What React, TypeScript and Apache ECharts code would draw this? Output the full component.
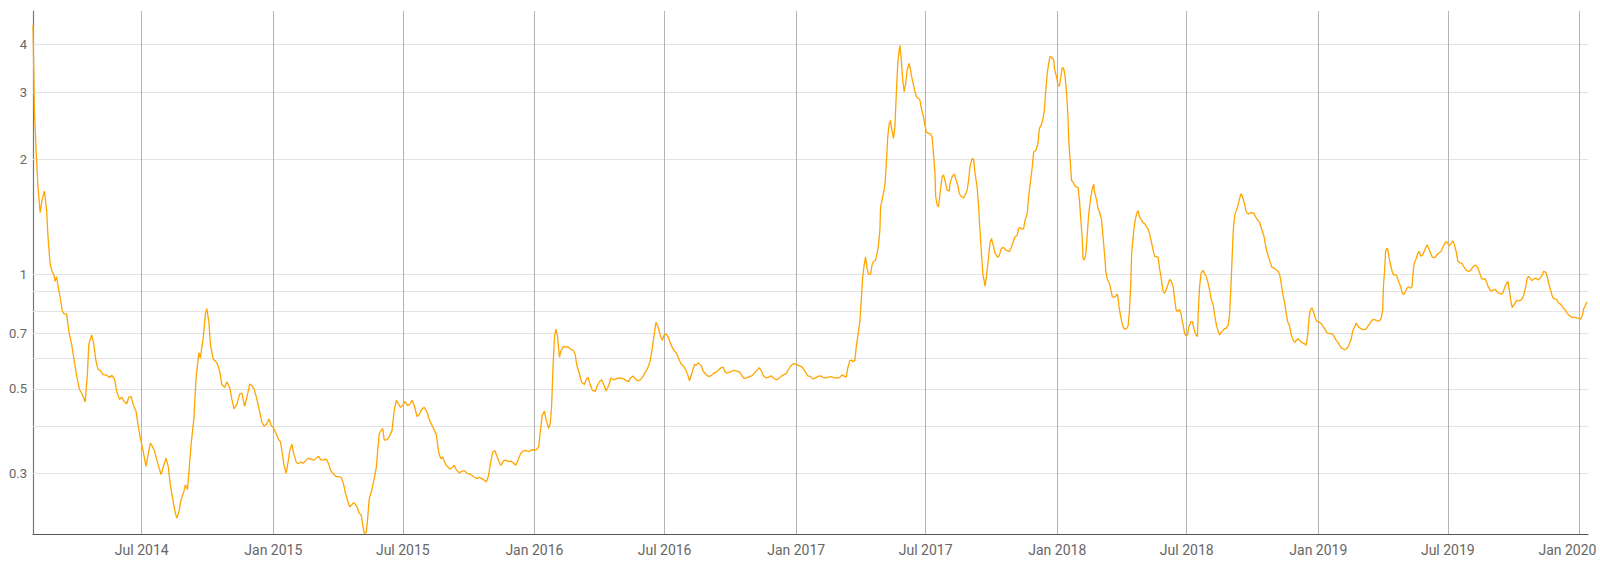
import { useEffect, useRef } from "react";
import * as echarts from "echarts";

// x values: days after startDate
const startDate = "2014-01-30";
const endDate = "2020-01-13";

const dayOffsets: number[] = [
  // Feb 2014 - Nov 2014
  0, 2, 5, 7, 10, 13, 16, 19, 21, 24, 27, 29, 31, 33, 35, 38, 41, 43, 47, 50, 54, 57, 60, 62, 65, 69, 73, 76, 78, 82, 85, 88, 91, 94, 98, 103, 107, 110, 114, 117, 121, 124, 127, 131, 134, 137, 140, 144, 147, 150, 154, 158, 161, 164, 167, 170, 173, 176, 179, 183, 186, 189, 192, 196, 199, 201, 204, 207, 211, 213, 216, 218, 221, 225, 228, 232, 234, 238, 241, 243, 246, 248, 252, 255, 258, 261, 264, 268, 271, 275,
  // Nov 2014 - Aug 2015
  278, 281, 285, 289, 292, 296, 299, 303, 306, 309, 313, 317, 320, 323, 327, 330, 333, 336, 340, 343, 346, 349, 351, 354, 357, 359, 362, 364, 368, 371, 374, 378, 382, 385, 390, 393, 397, 399, 402, 406, 410, 413, 416, 420, 424, 427, 431, 434, 437, 441, 443, 447, 449, 453, 456, 459, 461, 463, 466, 468, 470, 474, 477, 480, 482, 484, 487, 489, 491, 495, 498, 502, 505, 508, 511, 514, 517, 520, 524, 527, 530, 533, 537, 540, 544, 547, 551, 554,
  // Aug 2015 - May 2016
  559, 564, 567, 570, 573, 576, 579, 583, 586, 589, 592, 596, 600, 603, 607, 610, 613, 617, 620, 624, 627, 631, 634, 637, 640, 643, 646, 648, 652, 654, 658, 661, 665, 668, 672, 675, 679, 682, 686, 689, 693, 696, 700, 703, 707, 709, 712, 715, 717, 721, 723, 725, 727, 729, 731, 733, 736, 738, 742, 745, 748, 751, 755, 758, 760, 764, 767, 771, 773, 776, 779, 782, 786, 789, 793, 795, 799, 801, 805, 808, 812, 815, 819, 822, 826, 829, 833,
  // May 2016 - Feb 2017
  835, 839, 842, 845, 849, 853, 856, 859, 863, 866, 869, 871, 874, 877, 880, 882, 885, 888, 891, 894, 897, 900, 903, 906, 910, 913, 916, 918, 920, 923, 925, 927, 930, 934, 937, 941, 944, 948, 951, 955, 958, 962, 965, 967, 970, 974, 977, 980, 984, 988, 991, 994, 998, 1002, 1005, 1008, 1012, 1015, 1018, 1021, 1025, 1028, 1032, 1035, 1039, 1042, 1046, 1049, 1053, 1056, 1060, 1063, 1067, 1070, 1074, 1076, 1080, 1083, 1087, 1090, 1094, 1097, 1101, 1104, 1108, 1111,
  // Feb 2017 - Dec 2017
  1115, 1119, 1124, 1128, 1131, 1134, 1137, 1139, 1142, 1144, 1146, 1149, 1151, 1153, 1156, 1158, 1160, 1162, 1164, 1166, 1168, 1171, 1173, 1175, 1178, 1180, 1182, 1184, 1185, 1187, 1189, 1191, 1193, 1195, 1197, 1199, 1200, 1203, 1205, 1207, 1209, 1211, 1212, 1214, 1216, 1218, 1220, 1222, 1225, 1226, 1228, 1231, 1233, 1235, 1238, 1240, 1242, 1245, 1247, 1249, 1252, 1254, 1257, 1259, 1261, 1262, 1264, 1266, 1268, 1271, 1273, 1275, 1278, 1281, 1282, 1285, 1288, 1290, 1293, 1295, 1298, 1301, 1303, 1306, 1308, 1310, 1313, 1315, 1317, 1320, 1322, 1324, 1326, 1328, 1330, 1331, 1333, 1336, 1338, 1340, 1343, 1345, 1349, 1351, 1354, 1357, 1360, 1363, 1365, 1368, 1370, 1373, 1376, 1378, 1380, 1383, 1385, 1387, 1390, 1392,
  // Dec 2017 - Sep 2018
  1397, 1399, 1402, 1405, 1407, 1410, 1412, 1414, 1416, 1418, 1420, 1422, 1424, 1427, 1428, 1431, 1433, 1435, 1437, 1439, 1441, 1443, 1445, 1447, 1448, 1450, 1452, 1454, 1456, 1459, 1461, 1463, 1465, 1467, 1468, 1470, 1472, 1474, 1476, 1479, 1481, 1483, 1484, 1487, 1489, 1491, 1494, 1496, 1498, 1500, 1502, 1505, 1507, 1509, 1511, 1513, 1516, 1517, 1519, 1522, 1524, 1526, 1529, 1531, 1533, 1535, 1536, 1539, 1541, 1543, 1545, 1547, 1550, 1552, 1554, 1557, 1559, 1561, 1564, 1566, 1568, 1571, 1573, 1575, 1577, 1580, 1582, 1584, 1587, 1589, 1591, 1594, 1596, 1598, 1600, 1603, 1605, 1606, 1608, 1610, 1612, 1614, 1616, 1619, 1621, 1623, 1626, 1628, 1629, 1631, 1633, 1636, 1638, 1640, 1643, 1645, 1647, 1650, 1652, 1654, 1657, 1659, 1661, 1664, 1666, 1668, 1671, 1673, 1675,
  // Sep 2018 - Jun 2019
  1678, 1680, 1681, 1684, 1687, 1689, 1691, 1694, 1696, 1699, 1701, 1704, 1707, 1709, 1712, 1715, 1718, 1721, 1723, 1725, 1728, 1730, 1732, 1735, 1738, 1741, 1743, 1745, 1747, 1750, 1752, 1754, 1757, 1759, 1762, 1764, 1766, 1769, 1771, 1773, 1776, 1778, 1780, 1782, 1784, 1786, 1788, 1790, 1792, 1794, 1796, 1799, 1801, 1803, 1806, 1808, 1810, 1813, 1815, 1818, 1820, 1822, 1825, 1827, 1829, 1832, 1834, 1836, 1839, 1841, 1843, 1845, 1848, 1850, 1852, 1855, 1857, 1860, 1862, 1864, 1866, 1869, 1871, 1873, 1876, 1878, 1880, 1883, 1885, 1887, 1888, 1890, 1891, 1893, 1894, 1895, 1897, 1899, 1901, 1902, 1905, 1907, 1909, 1912, 1914, 1916, 1919, 1921, 1923, 1926, 1928, 1929, 1931, 1934, 1936, 1938, 1940, 1942, 1944, 1947, 1949, 1951,
  // Jun 2019 - Jan 2020
  1956, 1958, 1961, 1963, 1966, 1969, 1971, 1974, 1976, 1978, 1980, 1983, 1985, 1987, 1990, 1992, 1995, 1998, 2000, 2004, 2006, 2010, 2013, 2016, 2018, 2020, 2023, 2025, 2027, 2030, 2032, 2034, 2037, 2039, 2041, 2044, 2046, 2048, 2051, 2053, 2055, 2058, 2060, 2062, 2064, 2066, 2068, 2070, 2073, 2075, 2077, 2080, 2082, 2084, 2087, 2089, 2091, 2094, 2096, 2098, 2101, 2103, 2105, 2108, 2110, 2112, 2115, 2117, 2119, 2122, 2124, 2126, 2129, 2131, 2133, 2136, 2138, 2140, 2143, 2145, 2147, 2150, 2152, 2155, 2158, 2161, 2164, 2166, 2168, 2171, 2173,
];

const values: number[] = [
  // Feb 2014 - Nov 2014
  4.5, 2.69, 1.99, 1.69, 1.45, 1.58, 1.65, 1.47, 1.25, 1.06, 1.01, 1.0, 0.957, 0.984, 0.932, 0.868, 0.8, 0.788, 0.785, 0.709, 0.654, 0.603, 0.556, 0.529, 0.498, 0.483, 0.462, 0.545, 0.654, 0.692, 0.654, 0.592, 0.562, 0.559, 0.545, 0.543, 0.535, 0.543, 0.529, 0.492, 0.469, 0.475, 0.464, 0.457, 0.475, 0.478, 0.455, 0.437, 0.4, 0.372, 0.343, 0.313, 0.336, 0.36, 0.353, 0.343, 0.326, 0.311, 0.298, 0.316, 0.329, 0.313, 0.28, 0.253, 0.236, 0.229, 0.238, 0.256, 0.269, 0.28, 0.272, 0.303, 0.357, 0.419, 0.535, 0.622, 0.603, 0.681, 0.785, 0.812, 0.747, 0.654, 0.597, 0.592, 0.579, 0.556, 0.513, 0.504, 0.522, 0.504,
  // Nov 2014 - Aug 2015
  0.47, 0.443, 0.456, 0.485, 0.487, 0.45, 0.475, 0.515, 0.51, 0.5, 0.47, 0.434, 0.409, 0.399, 0.405, 0.417, 0.4, 0.396, 0.381, 0.369, 0.363, 0.334, 0.315, 0.3, 0.325, 0.345, 0.358, 0.341, 0.321, 0.318, 0.321, 0.319, 0.325, 0.329, 0.326, 0.325, 0.33, 0.333, 0.326, 0.325, 0.327, 0.319, 0.306, 0.299, 0.294, 0.294, 0.293, 0.282, 0.265, 0.25, 0.245, 0.25, 0.251, 0.245, 0.236, 0.233, 0.219, 0.209, 0.21, 0.23, 0.257, 0.273, 0.29, 0.311, 0.345, 0.381, 0.39, 0.393, 0.367, 0.368, 0.374, 0.389, 0.439, 0.467, 0.456, 0.447, 0.453, 0.463, 0.452, 0.456, 0.467, 0.452, 0.423, 0.428, 0.443, 0.447, 0.434, 0.415,
  // Aug 2015 - May 2016
  0.397, 0.378, 0.342, 0.328, 0.331, 0.319, 0.313, 0.308, 0.311, 0.315, 0.306, 0.301, 0.304, 0.305, 0.3, 0.299, 0.297, 0.293, 0.291, 0.293, 0.291, 0.288, 0.285, 0.297, 0.322, 0.342, 0.344, 0.335, 0.32, 0.315, 0.324, 0.325, 0.322, 0.323, 0.319, 0.315, 0.328, 0.339, 0.344, 0.344, 0.342, 0.345, 0.346, 0.345, 0.352, 0.382, 0.426, 0.437, 0.417, 0.393, 0.405, 0.448, 0.57, 0.682, 0.717, 0.695, 0.605, 0.629, 0.647, 0.642, 0.645, 0.636, 0.632, 0.617, 0.58, 0.547, 0.52, 0.513, 0.527, 0.536, 0.513, 0.495, 0.492, 0.51, 0.525, 0.528, 0.507, 0.493, 0.51, 0.534, 0.528, 0.531, 0.534, 0.533, 0.531, 0.525, 0.522,
  // May 2016 - Feb 2017
  0.534, 0.54, 0.531, 0.525, 0.528, 0.539, 0.553, 0.564, 0.594, 0.643, 0.705, 0.748, 0.726, 0.69, 0.67, 0.69, 0.697, 0.684, 0.659, 0.641, 0.628, 0.618, 0.599, 0.582, 0.572, 0.559, 0.539, 0.525, 0.541, 0.564, 0.58, 0.576, 0.585, 0.576, 0.556, 0.545, 0.539, 0.541, 0.548, 0.553, 0.559, 0.568, 0.57, 0.556, 0.55, 0.553, 0.556, 0.559, 0.556, 0.553, 0.541, 0.533, 0.534, 0.539, 0.541, 0.548, 0.559, 0.568, 0.559, 0.541, 0.534, 0.536, 0.541, 0.534, 0.528, 0.531, 0.539, 0.544, 0.548, 0.561, 0.576, 0.582, 0.58, 0.576, 0.572, 0.568, 0.553, 0.541, 0.539, 0.531, 0.534, 0.539, 0.541, 0.536, 0.534, 0.536,
  // Feb 2017 - Dec 2017
  0.538, 0.536, 0.533, 0.536, 0.544, 0.54, 0.536, 0.566, 0.593, 0.595, 0.589, 0.593, 0.645, 0.685, 0.75, 0.855, 0.984, 1.056, 1.11, 1.035, 1.0, 1.0, 1.056, 1.077, 1.088, 1.133, 1.191, 1.304, 1.501, 1.563, 1.627, 1.711, 1.95, 2.29, 2.48, 2.53, 2.43, 2.27, 2.43, 2.98, 3.57, 3.87, 3.98, 3.64, 3.22, 3.01, 3.16, 3.42, 3.57, 3.49, 3.32, 3.13, 3.01, 2.92, 2.89, 2.86, 2.72, 2.58, 2.46, 2.36, 2.34, 2.34, 2.29, 2.07, 1.84, 1.6, 1.52, 1.5, 1.627, 1.8, 1.82, 1.76, 1.66, 1.65, 1.73, 1.8, 1.83, 1.78, 1.71, 1.627, 1.595, 1.585, 1.61, 1.66, 1.76, 1.91, 2.01, 2.0, 1.84, 1.69, 1.5, 1.304, 1.133, 1.0, 0.955, 0.93, 0.984, 1.11, 1.208, 1.24, 1.179, 1.133, 1.106, 1.121, 1.168, 1.175, 1.156, 1.151, 1.144, 1.179, 1.208, 1.253, 1.265, 1.317, 1.325, 1.31, 1.317, 1.385, 1.442, 1.595,
  // Dec 2017 - Sep 2018
  1.91, 2.09, 2.11, 2.2, 2.41, 2.47, 2.56, 2.69, 3.04, 3.36, 3.57, 3.73, 3.7, 3.65, 3.46, 3.29, 3.13, 3.11, 3.29, 3.48, 3.46, 3.29, 2.98, 2.58, 2.24, 1.99, 1.76, 1.746, 1.71, 1.69, 1.69, 1.563, 1.385, 1.228, 1.099, 1.088, 1.133, 1.278, 1.442, 1.595, 1.677, 1.72, 1.644, 1.563, 1.486, 1.457, 1.385, 1.253, 1.133, 1.014, 0.968, 0.945, 0.908, 0.872, 0.869, 0.872, 0.886, 0.863, 0.805, 0.75, 0.728, 0.717, 0.72, 0.731, 0.805, 0.964, 1.133, 1.304, 1.385, 1.442, 1.466, 1.413, 1.385, 1.363, 1.358, 1.33, 1.31, 1.278, 1.203, 1.156, 1.115, 1.11, 1.106, 1.035, 0.984, 0.899, 0.89, 0.908, 0.942, 0.968, 0.961, 0.927, 0.863, 0.808, 0.797, 0.808, 0.789, 0.765, 0.735, 0.699, 0.688, 0.692, 0.728, 0.75, 0.75, 0.72, 0.692, 0.685, 0.789, 0.927, 1.004, 1.024, 1.0, 0.988, 0.945, 0.908, 0.863, 0.829, 0.781, 0.743, 0.706, 0.692, 0.702, 0.713, 0.72, 0.72, 0.735, 0.789, 0.945,
  // Sep 2018 - Jun 2019
  1.3, 1.42, 1.445, 1.5, 1.58, 1.624, 1.598, 1.52, 1.459, 1.436, 1.445, 1.45, 1.445, 1.416, 1.388, 1.366, 1.307, 1.255, 1.194, 1.146, 1.101, 1.069, 1.043, 1.037, 1.026, 1.016, 0.996, 0.947, 0.892, 0.839, 0.79, 0.752, 0.729, 0.694, 0.669, 0.662, 0.67, 0.676, 0.669, 0.664, 0.659, 0.656, 0.65, 0.687, 0.767, 0.806, 0.815, 0.798, 0.775, 0.756, 0.75, 0.747, 0.741, 0.732, 0.718, 0.706, 0.7, 0.698, 0.698, 0.691, 0.68, 0.67, 0.659, 0.649, 0.64, 0.636, 0.633, 0.636, 0.646, 0.662, 0.676, 0.708, 0.729, 0.744, 0.732, 0.722, 0.718, 0.715, 0.715, 0.718, 0.729, 0.741, 0.752, 0.759, 0.759, 0.756, 0.752, 0.756, 0.767, 0.806, 0.928, 1.047, 1.146, 1.17, 1.163, 1.135, 1.079, 1.037, 1.006, 0.996, 0.996, 0.986, 0.957, 0.928, 0.895, 0.883, 0.901, 0.919, 0.925, 0.919, 0.928, 0.986, 1.069, 1.101, 1.135, 1.146, 1.117, 1.117, 1.135, 1.17, 1.194, 1.17,
  // Jun 2019 - Jan 2020
  1.11, 1.104, 1.11, 1.126, 1.138, 1.15, 1.174, 1.206, 1.216, 1.203, 1.186, 1.206, 1.223, 1.198, 1.138, 1.081, 1.07, 1.066, 1.048, 1.023, 1.017, 1.023, 1.044, 1.055, 1.053, 1.038, 1.002, 0.976, 0.97, 0.972, 0.956, 0.931, 0.908, 0.902, 0.908, 0.912, 0.904, 0.893, 0.889, 0.886, 0.893, 0.927, 0.946, 0.956, 0.908, 0.854, 0.816, 0.828, 0.845, 0.854, 0.85, 0.854, 0.862, 0.88, 0.927, 0.976, 0.986, 0.97, 0.962, 0.97, 0.976, 0.97, 0.966, 0.982, 0.996, 1.017, 1.01, 0.986, 0.946, 0.904, 0.875, 0.862, 0.861, 0.854, 0.84, 0.832, 0.823, 0.811, 0.802, 0.789, 0.781, 0.773, 0.77, 0.77, 0.767, 0.765, 0.762, 0.778, 0.811, 0.833, 0.845,
];

const xTickDates = [
  "2014-07-01", "2015-01-01", "2015-07-01", "2016-01-01", "2016-07-01", "2017-01-01",
  "2017-07-01", "2018-01-01", "2018-07-01", "2019-01-01", "2019-07-01", "2020-01-01",
];
const xTickLabels = [
  "Jul 2014", "Jan 2015", "Jul 2015", "Jan 2016", "Jul 2016", "Jan 2017",
  "Jul 2017", "Jan 2018", "Jul 2018", "Jan 2019", "Jul 2019", "Jan 2020",
];
const yGridValues = [0.3, 0.4, 0.5, 0.6, 0.7, 0.8, 0.9, 1, 2, 3, 4];
const yTickLabels = ["0.3", "", "0.5", "", "0.7", "", "", "1", "2", "3", "4"];
const yMin = 0.208;
const yMax = 4.9;

const DAY = 86400000;
const toTime = (s: string) => new Date(s + "T00:00:00Z").getTime();

export default function App() {
  const ref = useRef<HTMLDivElement>(null);

  useEffect(() => {
    if (!ref.current) return;
    const chart = echarts.init(ref.current, undefined, { renderer: "svg" });
    const t0 = toTime(startDate);
    const data = dayOffsets.map((d, i) => [t0 + d * DAY, values[i]]);

    const labelColor = "#666";
    const fontFamily = "Roboto, 'Noto Sans', sans-serif";
    const lastX = xTickDates.length - 1;

    const gridLines: any[] = [
      ...yGridValues.map((v, i) => ({
        yAxis: v,
        name: yTickLabels[i],
        lineStyle: { color: "#e3e3e3", width: 1, type: "solid" },
        label: {
          show: yTickLabels[i] !== "",
          position: "start",
          formatter: "{b}",
          color: labelColor,
          fontSize: 13,
          fontFamily,
          distance: 6,
        },
      })),
      ...xTickDates.map((s, i) => ({
        xAxis: toTime(s),
        name: xTickLabels[i],
        lineStyle: { color: "#b4b4b4", width: 1, type: "solid" },
        label: {
          show: true,
          position: "start",
          formatter: "{b}",
          color: labelColor,
          fontSize: 14,
          fontFamily,
          distance: 9,
          offset: i === lastX ? [-12, 0] : [0, 0],
        },
      })),
    ];

    chart.setOption({
      animation: false,
      grid: { left: 33, right: 12, top: 11, bottom: 31, containLabel: false },
      xAxis: {
        type: "time",
        min: t0,
        max: toTime(endDate),
        axisLine: { show: true, onZero: false, lineStyle: { color: "#555", width: 1.2 } },
        axisTick: { show: false },
        axisLabel: { show: false },
        splitLine: { show: false },
      },
      yAxis: {
        type: "log",
        logBase: 10,
        min: yMin,
        max: yMax,
        axisLine: { show: true, lineStyle: { color: "#777", width: 1.2 } },
        axisTick: { show: false },
        axisLabel: { show: false },
        splitLine: { show: false },
      },
      series: [
        {
          type: "line",
          data,
          showSymbol: false,
          silent: true,
          z: 1,
          lineStyle: { opacity: 0 },
          markLine: {
            silent: true,
            symbol: ["none", "none"],
            animation: false,
            data: gridLines,
          },
        },
        {
          type: "line",
          data,
          showSymbol: false,
          z: 5,
          lineStyle: { color: "#FFA500", width: 1.3 },
          itemStyle: { color: "#FFA500" },
        },
      ],
    });

    return () => chart.dispose();
  }, []);

  return (
    <div
      ref={ref}
      style={{ position: "fixed", left: 0, top: 0, width: 1600, height: 565, background: "#fff" }}
    />
  );
}
